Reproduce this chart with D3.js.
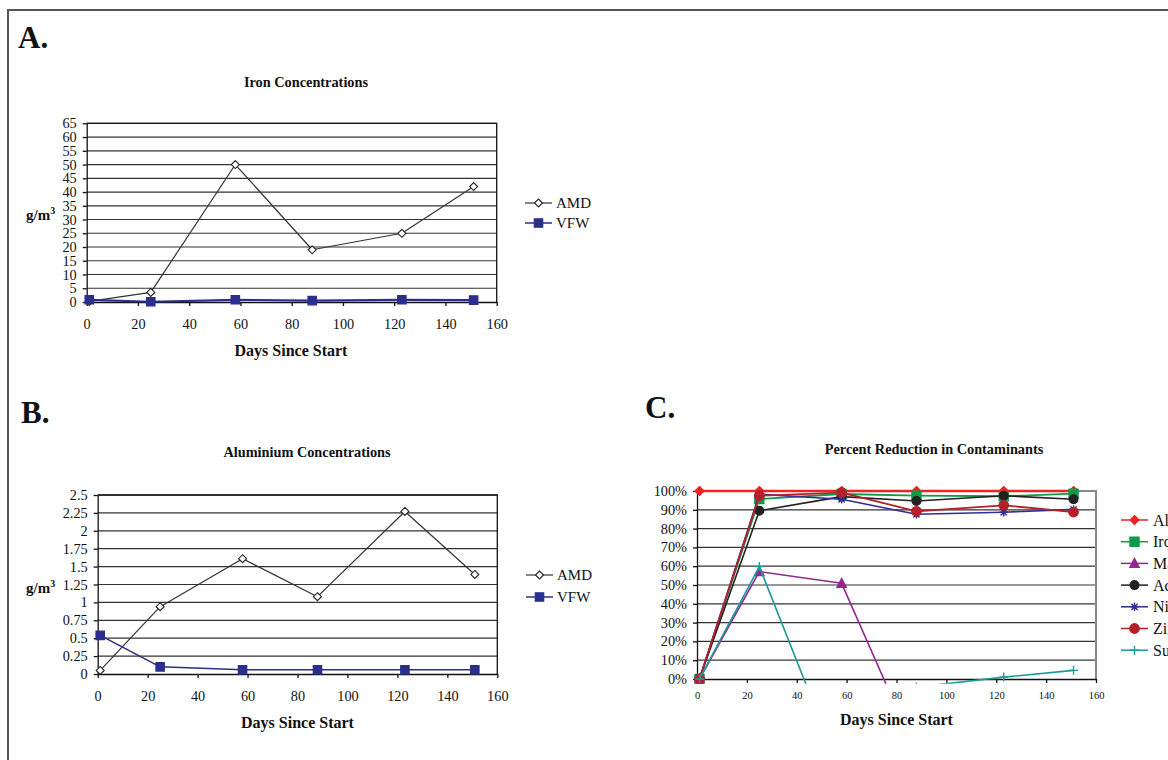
<!DOCTYPE html>
<html><head><meta charset="utf-8">
<script src="https://cdn.jsdelivr.net/npm/d3@7"></script>
<style>
body{margin:0;background:#fff}
svg{display:block;font-family:"Liberation Serif","Times New Roman",serif}
</style>
</head><body>
<svg id="c" width="1168" height="760"></svg>
<script>
// ---------- data ----------
const days = [1, 25, 58, 88, 123, 151];
const dayTicks = [0, 20, 40, 60, 80, 100, 120, 140, 160];
const ironYTicks = [0, 5, 10, 15, 20, 25, 30, 35, 40, 45, 50, 55, 60, 65];
const alYTicks = [0, 0.25, 0.5, 0.75, 1, 1.25, 1.5, 1.75, 2, 2.25, 2.5];
const pctTicks = [0, 10, 20, 30, 40, 50, 60, 70, 80, 90, 100];
const concNames = ["AMD", "VFW"];

const ironAMD = [0.2, 3.5, 50, 19, 25, 42];
const ironVFW = [0.8, 0.1, 0.8, 0.5, 0.8, 0.7];
const alAMD = [0.05, 0.94, 1.61, 1.08, 2.27, 1.39];
const alVFW = [0.54, 0.1, 0.06, 0.06, 0.06, 0.06];

const reductionNames = ["Aluminium", "Iron", "Manganese", "Acidity", "Nickel", "Zinc", "Sulfate"];
const redAl = [100, 100, 100, 100, 100, 100];
const redIron = [0, 95.7, 98.4, 97.5, 97.2, 98.6];
const redMn = [0, 57.1, 50.9, -39.4, -25, -18];
const redAc = [0, 89.5, 97, 94.7, 97.5, 95.6];
const redNi = [0, 98.3, 95.6, 87.6, 88.7, 90.2];
const redZn = [0, 97.5, 99.1, 89.2, 92.4, 88.8];
const redSO4 = [0, 59.8, -50.6, -4.3, 1.0, 4.6];

// ---------- helpers ----------
const svg = d3.select("#c");
svg.append("rect").attr("width", 1168).attr("height", 760).attr("fill", "#fff");
svg.append("path").attr("d", "M8,760V10H1168").attr("fill", "none")
  .attr("stroke", "#555").attr("stroke-width", 2);

function markerPath(type, r) {
  switch (type) {
    case "diamond": return `M0,${-r}L${r},0L0,${r}L${-r},0Z`;
    case "square": return `M${-r},${-r}h${2*r}v${2*r}h${-2*r}Z`;
    case "triangle": return `M0,${-r}L${r*0.95},${r*0.8}L${-r*0.95},${r*0.8}Z`;
    case "circle": return `M${r},0A${r},${r} 0 1,1 ${-r},0A${r},${r} 0 1,1 ${r},0Z`;
    case "asterisk": {
      const a = r * 0.75;
      return `M${-r},0H${r}M0,${-r}V${r}M${-a},${-a}L${a},${a}M${a},${-a}L${-a},${a}`;
    }
    case "plus": return `M${-r},0H${r}M0,${-r}V${r}`;
  }
}

function drawMarker(g, x, y, s) {
  const stroked = s.marker === "asterisk" || s.marker === "plus";
  g.append("path").attr("transform", `translate(${x},${y})`)
    .attr("d", markerPath(s.marker, s.r))
    .attr("fill", stroked ? "none" : s.fill)
    .attr("stroke", s.mstroke || s.color)
    .attr("stroke-width", s.mwidth || 1.2);
}

function frame(p) {
  const g = svg.append("g");
  const x = d3.scaleLinear([0, 160], [p.left, p.right]);
  const y = d3.scaleLinear(p.yDomain, [p.bottom, p.top]);
  g.append("g").selectAll("line").data(p.yTicks.filter(t => t !== p.yDomain[0]))
    .join("line")
    .attr("x1", x(0)).attr("x2", x(160))
    .attr("y1", d => y(d)).attr("y2", d => y(d))
    .attr("stroke", p.gridColor).attr("stroke-width", 1.2);
  g.append("path").attr("d", `M${x(0)},${y(p.yDomain[1])}H${x(160)}V${y(p.yDomain[0])}`)
    .attr("fill", "none").attr("stroke", p.frameColor).attr("stroke-width", p.frameWidth);
  const ya = g.append("g").attr("transform", `translate(${x(0)},0)`)
    .call(d3.axisLeft(y).tickValues(p.yTicks).tickFormat(p.yFmt).tickSize(4).tickSizeOuter(0).tickPadding(6));
  ya.selectAll("text").attr("font-size", p.yFont).attr("fill", "#111")
    .attr("font-family", '"Liberation Serif","Times New Roman",serif');
  ya.selectAll("line,path").attr("stroke", "#111").attr("stroke-width", 1.3);
  const xa = g.append("g").attr("transform", `translate(0,${y(0)})`)
    .call(d3.axisBottom(x).tickValues(dayTicks).tickSize(4).tickSizeOuter(0).tickPadding(p.xPad));
  xa.selectAll("text").attr("font-size", p.xFont).attr("fill", "#111")
    .attr("font-family", '"Liberation Serif","Times New Roman",serif');
  xa.selectAll("line,path").attr("stroke", "#111").attr("stroke-width", 1.3);
  return {g, x, y};
}

function text(x, y, str, size, weight, anchor) {
  return svg.append("text").attr("x", x).attr("y", y).attr("font-size", size)
    .attr("font-weight", weight || "normal").attr("text-anchor", anchor || "start")
    .attr("fill", "#111").text(str);
}

function unitLabel(x, y) {
  const t = text(x, y, "g/m", 15, "bold");
  t.append("tspan").attr("dy", -6).attr("font-size", 10).text("3");
}

function legend(x1, ys, series, fs, gap) {
  series.forEach((s, i) => {
    const g = svg.append("g");
    g.append("line").attr("x1", x1).attr("x2", x1 + 27).attr("y1", ys[i]).attr("y2", ys[i])
      .attr("stroke", s.color).attr("stroke-width", s.lw);
    drawMarker(g, x1 + 13.5, ys[i], s);
    g.append("text").attr("x", x1 + gap).attr("y", ys[i]).attr("dy", "0.35em")
      .attr("font-size", fs).attr("fill", "#111").text(s.name);
  });
}

function drawSeries(ctx, s, clip) {
  const g = ctx.g.append("g");
  if (clip) g.attr("clip-path", `url(#${clip})`);
  const line = d3.line().x((d, i) => ctx.x(days[i])).y(d => ctx.y(d));
  g.append("path").attr("d", line(s.values)).attr("fill", "none")
    .attr("stroke", s.color).attr("stroke-width", s.lw).attr("stroke-linejoin", "round");
  s.values.forEach((v, i) => drawMarker(g, ctx.x(days[i]), ctx.y(v), s));
}

// ---------- Panel A ----------
text(18, 48, "A.", 31, "bold");
text(306, 87, "Iron Concentrations", 14.3, "bold", "middle");
const A = frame({left: 86.7, right: 496.7, top: 123.3, bottom: 302, yDomain: [0, 65],
  yTicks: ironYTicks, yFmt: d => String(d), yFont: 14.3, xFont: 14.3, xPad: 13,
  gridColor: "#333", frameColor: "#111", frameWidth: 1.3});
const sAMD = {name: concNames[0], color: "#333", lw: 1.2, marker: "diamond", r: 4, fill: "#fff", mstroke: "#222", mwidth: 1.1};
const sVFWa = {name: concNames[1], color: "#2b2e8c", lw: 2.2, marker: "square", r: 4.2, fill: "#2b2e8c"};
drawSeries(A, Object.assign({}, sAMD, {values: ironAMD}));
drawSeries(A, Object.assign({}, sVFWa, {values: ironVFW}));
unitLabel(26, 220);
text(291, 356, "Days Since Start", 16, "bold", "middle");
legend(525, [203, 223], [sAMD, Object.assign({}, sVFWa, {lw: 1.5})], 15, 31);

// ---------- Panel B ----------
text(21, 423, "B.", 31, "bold");
text(307, 457, "Aluminium Concentrations", 14.3, "bold", "middle");
const B = frame({left: 97.7, right: 497.3, top: 495, bottom: 674, yDomain: [0, 2.5],
  yTicks: alYTicks, yFmt: d => String(d), yFont: 14.3, xFont: 14.3, xPad: 13,
  gridColor: "#333", frameColor: "#111", frameWidth: 1.3});
const sVFWb = Object.assign({}, sVFWa, {lw: 1.5});
drawSeries(B, Object.assign({}, sAMD, {values: alAMD}));
drawSeries(B, Object.assign({}, sVFWb, {values: alVFW}));
unitLabel(26, 593);
text(297.5, 728, "Days Since Start", 16, "bold", "middle");
legend(526, [575, 597], [sAMD, sVFWb], 15, 31);

// ---------- Panel C ----------
text(645, 418, "C.", 31, "bold");
text(934, 454, "Percent Reduction in Contaminants", 14.3, "bold", "middle");
const C = frame({left: 697, right: 1096, top: 491, bottom: 679, yDomain: [0, 100],
  yTicks: pctTicks, yFmt: d => d + "%", yFont: 14.3, xFont: 10.5, xPad: 9,
  gridColor: "#333", frameColor: "#888", frameWidth: 2});
svg.append("defs").append("clipPath").attr("id", "clipC").append("rect")
  .attr("x", 680).attr("y", 470).attr("width", 430).attr("height", 683.8 - 470);
const cSeries = [
  {color: "#ee2424", lw: 2.4, marker: "diamond", r: 4.5, fill: "#ee2424", values: redAl},
  {color: "#0f9a4a", lw: 1.8, marker: "square", r: 4.6, fill: "#0f9a4a", values: redIron},
  {color: "#93278f", lw: 1.6, marker: "triangle", r: 5, fill: "#93278f", values: redMn},
  {color: "#222", lw: 1.6, marker: "circle", r: 4.4, fill: "#222", values: redAc},
  {color: "#2e3192", lw: 1.6, marker: "asterisk", r: 4.2, fill: "#2e3192", mwidth: 1.4, values: redNi},
  {color: "#b5202a", lw: 1.8, marker: "circle", r: 4.8, fill: "#b5202a", values: redZn},
  {color: "#1c9a9a", lw: 1.6, marker: "plus", r: 4.5, fill: "#1c9a9a", mwidth: 1.4, values: redSO4}
];
cSeries.forEach((s, i) => { s.name = reductionNames[i]; drawSeries(C, s, "clipC"); });
text(896.5, 725, "Days Since Start", 16, "bold", "middle");
legend(1121, [520, 541.7, 563.4, 585.1, 606.8, 628.5, 650.2],
  cSeries.map(s => Object.assign({}, s, {lw: 1.5})), 16, 32);
</script>
</body></html>
